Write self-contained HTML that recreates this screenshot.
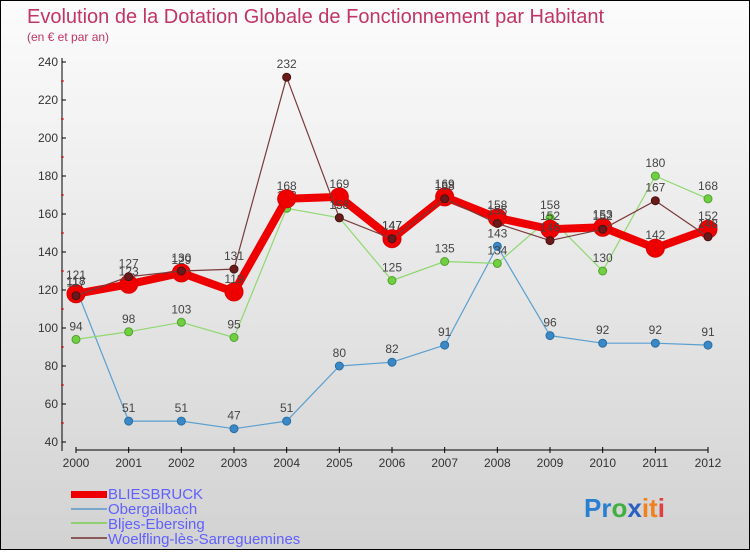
<!DOCTYPE html>
<html><head><meta charset="utf-8"><style>
body{margin:0;width:750px;height:550px;overflow:hidden;font-family:"Liberation Sans",sans-serif}
#c{position:relative;width:748px;height:548px;border:1px solid #000;background:linear-gradient(#fcfcfc,#d2d2d2)}
</style></head><body>
<div id="c">
<svg id="s" width="748" height="548" xmlns="http://www.w3.org/2000/svg">
<text x="26" y="22" font-size="20" fill="#c03565">Evolution de la Dotation Globale de Fonctionnement par Habitant</text>
<text x="26" y="40" font-size="12" fill="#c03565">(en € et par an)</text>
<g id="axes"></g><g id="series"></g>
<g font-size="15" fill="#6060ff">
<rect x="70" y="490" width="36" height="7" fill="#e00"/>
<text x="107" y="498">BLIESBRUCK</text>
<rect x="70" y="507" width="36" height="2" fill="#7aa8cc"/>
<text x="107" y="513">Obergailbach</text>
<rect x="70" y="521" width="36" height="2" fill="#90d070"/>
<text x="107" y="528">Bljes-Ebersing</text>
<rect x="70" y="536" width="36" height="2" fill="#8a5a5a"/>
<text x="107" y="543">Woelfling-lès-Sarreguemines</text>
</g>
<g font-size="26" font-weight="bold">
<text x="583" y="516"><tspan fill="#2a7fd0">Pr</tspan><tspan fill="#40b040">o</tspan><tspan fill="#2a60c0">x</tspan><tspan fill="#f08020">it</tspan><tspan fill="#e04040">i</tspan></text>
</g>
</svg>
</div>
<script>
const years=["2000","2001","2002","2003","2004","2005","2006","2007","2008","2009","2010","2011","2012"];
const yTicks=[40,60,80,100,120,140,160,180,200,220,240];
const bliesbruck=[118,123,129,119,168,169,147,169,158,152,153,142,152];
const obergailbach=[121,51,51,47,51,80,82,91,143,96,92,92,91];
const bljesEbersing=[94,98,103,95,163,158,125,135,134,158,130,180,168];
const woelfling=[117,127,130,131,232,158,147,168,155,146,152,167,148];
const NS="http://www.w3.org/2000/svg";
function X(i){return 75+i*(707-75)/(years.length-1);}
function Y(v){return 441-(v-40)*1.9;}
function mk(tag,at,par){const e=document.createElementNS(NS,tag);for(const k in at)e.setAttribute(k,at[k]);par.appendChild(e);return e;}
const ax=document.getElementById('axes');
let l=mk('line',{x1:61,y1:57,x2:61,y2:450,stroke:'#000'},ax);


l=mk('line',{x1:75,y1:449,x2:707,y2:449,stroke:'#000'},ax);


yTicks.forEach(v=>{
 mk('line',{x1:61,y1:Y(v),x2:65,y2:Y(v),stroke:'#000'},ax);
 if(v<240) mk('line',{x1:60,y1:Y(v+10),x2:63,y2:Y(v+10),stroke:'#d00'},ax);
 const t=mk('text',{x:57,y:Y(v)+4,'text-anchor':'end','font-size':12,fill:'#333'},ax);
 t.textContent=v;
 
 
});
years.forEach((y,i)=>{
 mk('line',{x1:X(i),y1:446,x2:X(i),y2:452,stroke:'#000'},ax);
 const t=mk('text',{x:X(i),y:466,'text-anchor':'middle','font-size':12,fill:'#333'},ax);
 t.textContent=y;
 
 
});
const sg=document.getElementById('series');
function draw(data,name,col,w,r,dot,stroke){
 const g=mk('g',{},sg);
 
 
 const p=mk('polyline',{points:data.map((v,i)=>X(i)+','+Y(v)).join(' '),fill:'none',stroke:col,'stroke-width':w,'stroke-linejoin':'round'},g);
 
 
 data.forEach((v,i)=>{
  const c=mk('circle',{cx:X(i),cy:Y(v),r:r,fill:dot,stroke:stroke,'stroke-width':1},g);
  
  
  const t=mk('text',{x:X(i),y:Y(v)-9,'text-anchor':'middle','font-size':12,fill:'#444'},g);
  t.textContent=v;
  
  
 });
}
draw(obergailbach,'obergailbach','#5a9fd0',1.2,4,'#3a88c8','#2a6fa0');
draw(bljesEbersing,'bljes-ebersing','#90d870',1.2,4,'#70d040','#50a030');
draw(bliesbruck,'bliesbruck','#ee0000',8,9,'#ee0000','#d00');
draw(woelfling,'woelfling','#7a3a3a',1.2,4,'#6a1a1a','#4a1010');
</script>
</body></html>
